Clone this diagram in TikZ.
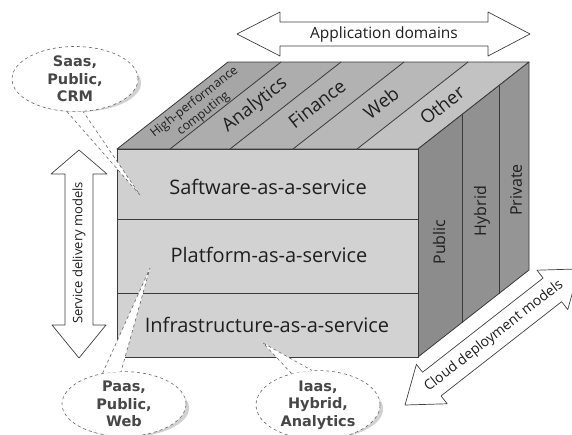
\documentclass[tikz,border=0pt]{standalone}
\usepackage{fontspec}
\setmainfont{Open Sans}
\newfontfamily\bubblefont{DejaVu Sans}
\usetikzlibrary{shapes.geometric}
\definecolor{frontc}{HTML}{D2D2D2}
\definecolor{rightc}{HTML}{8C8C8C}
\definecolor{edgec}{HTML}{3A3A3A}
\begin{document}
\begin{tikzpicture}[x=1pt,y=-1pt,line join=round,
  face/.style={draw=edgec,line width=0.8pt},
  lbl/.style={text=black!88,inner sep=0pt},
  bigl/.style={lbl,font=\fontsize{20}{24}\selectfont},
  topl/.style={lbl,font=\fontsize{18.5}{22}\selectfont,rotate=38},
  sidel/.style={lbl,font=\fontsize{16}{19}\selectfont,rotate=90},
  arrowshape/.style={draw=black!75,fill=white,line width=0.7pt},
  bubble/.style={ellipse,draw=black!60,fill=white,dashed,line width=0.6pt,inner sep=0pt,
    font=\bubblefont\bfseries\fontsize{14.5}{17.5}\selectfont,text=black!72,align=center},
  tail/.style={draw=black!60,dashed,line width=0.6pt}]
\useasboundingbox (0,0) rectangle (572,434);
\clip (0,0) rectangle (572,434);

% top face strips
\fill[black!35] (117,149) -- (170,149) -- (281,62) -- (228,62) -- cycle;
\fill[black!32] (170,149) -- (230,149) -- (341,62) -- (281,62) -- cycle;
\fill[black!30] (230,149) -- (293,149) -- (404,62) -- (341,62) -- cycle;
\fill[black!28] (293,149) -- (357,149) -- (468,62) -- (404,62) -- cycle;
\fill[black!24] (357,149) -- (418,149) -- (529,62) -- (468,62) -- cycle;
\draw[face] (117,149) -- (228,62) -- (529,62) -- (418,149) -- cycle;
\foreach \a in {170,230,293,357} \draw[face] (\a,149) -- ({\a+111},62);

% right face strips
\fill[rightc] (418,149) -- (462,114.5) -- (462,322.5) -- (418,357) -- cycle;
\fill[rightc!96!white] (462,114.5) -- (499,85.5) -- (499,293.5) -- (462,322.5) -- cycle;
\fill[rightc!92!white] (499,85.5) -- (529,62) -- (529,270) -- (499,293.5) -- cycle;
\draw[face] (418,149) -- (529,62) -- (529,270) -- (418,357) -- cycle;
\draw[face] (462,114.5) -- (462,322.5);
\draw[face] (499,85.5) -- (499,293.5);

% front face bands
\filldraw[face,fill=frontc!105!white] (117,149) rectangle (418,219);
\filldraw[face,fill=frontc] (117,219) rectangle (418,293);
\filldraw[face,fill=frontc] (117,293) rectangle (418,357);

% front labels
\node[bigl] (saas) at (268,187) {Saftware-as-a-service};
\node[bigl] (paas) at (269,255) {Platform-as-a-service};
\node[bigl] (iaas) at (267,325) {Infrastructure-as-a-service};

% top labels
\node[topl,font=\fontsize{12.5}{14.5}\selectfont,align=center] (hpc) at (199,108) {High-performance\\computing};
\node[topl] (ana) at (255,105) {Analytics};
\node[topl] (fin) at (317,104) {Finance};
\node[topl] (web) at (381,103) {Web};
\node[topl] (oth) at (442,105) {Other};

% right labels
\node[sidel] (pub) at (439,242) {Public};
\node[sidel] (hyb) at (482,211) {Hybrid};
\node[sidel] (pri) at (516,190) {Private};

% application domains arrow
\draw[arrowshape] (237,34) -- (280,12) -- (280,22) -- (488,22) -- (488,12) -- (530,34)
  -- (488,56) -- (488,46) -- (280,46) -- (280,56) -- cycle;
\node[lbl,font=\fontsize{15.5}{18}\selectfont] (appdom) at (384,34) {Application domains};

% service delivery arrow
\draw[arrowshape] (79,150) -- (107,174) -- (93,174) -- (93,325) -- (106,325) -- (79,358)
  -- (52,325) -- (65,325) -- (65,174) -- (51,174) -- cycle;
\node[lbl,font=\fontsize{13}{15}\selectfont,rotate=90] (sdm) at (79,253) {Service delivery models};

% cloud deployment arrow
\begin{scope}[shift={(405,405)},rotate=38]
\draw[arrowshape] (0,0) -- (34,25) -- (34,15) -- (187,15) -- (187,25) -- (221,0)
  -- (187,-25) -- (187,-15) -- (34,-15) -- (34,-25) -- cycle;
\end{scope}
\node[lbl,font=\fontsize{14}{17}\selectfont,rotate=38] (cdm) at (494,336) {Cloud deployment models};

% bubbles
\coordinate (tsaas) at (140,195);
\coordinate (tpaas) at (150,268);
\coordinate (tiaas) at (263,343);
\fill[black!18] (78,83) ellipse [x radius=63pt,y radius=29pt];
\fill[black!18] (127,408) ellipse [x radius=62pt,y radius=29pt];
\fill[black!18] (321,409) ellipse [x radius=62pt,y radius=30pt];

\node[bubble,minimum width=126pt,minimum height=58pt] (bsaas) at (75,79) {Saas,\\Public,\\CRM};
\fill[white] (bsaas.-104) -- (tsaas) -- (bsaas.-76) -- cycle;
\draw[tail] (bsaas.-104) -- (tsaas) -- (bsaas.-76);

\node[bubble,minimum width=124pt,minimum height=58pt] (bpaas) at (124,404) {Paas,\\Public,\\Web};
\fill[white] (bpaas.125) -- (tpaas) -- (bpaas.95) -- cycle;
\draw[tail] (bpaas.125) -- (tpaas) -- (bpaas.95);

\node[bubble,minimum width=124pt,minimum height=60pt] (biaas) at (318,405) {Iaas,\\Hybrid,\\Analytics};
\fill[white] (biaas.130) -- (tiaas) -- (biaas.100) -- cycle;
\draw[tail] (biaas.130) -- (tiaas) -- (biaas.100);
\end{tikzpicture}
\end{document}
